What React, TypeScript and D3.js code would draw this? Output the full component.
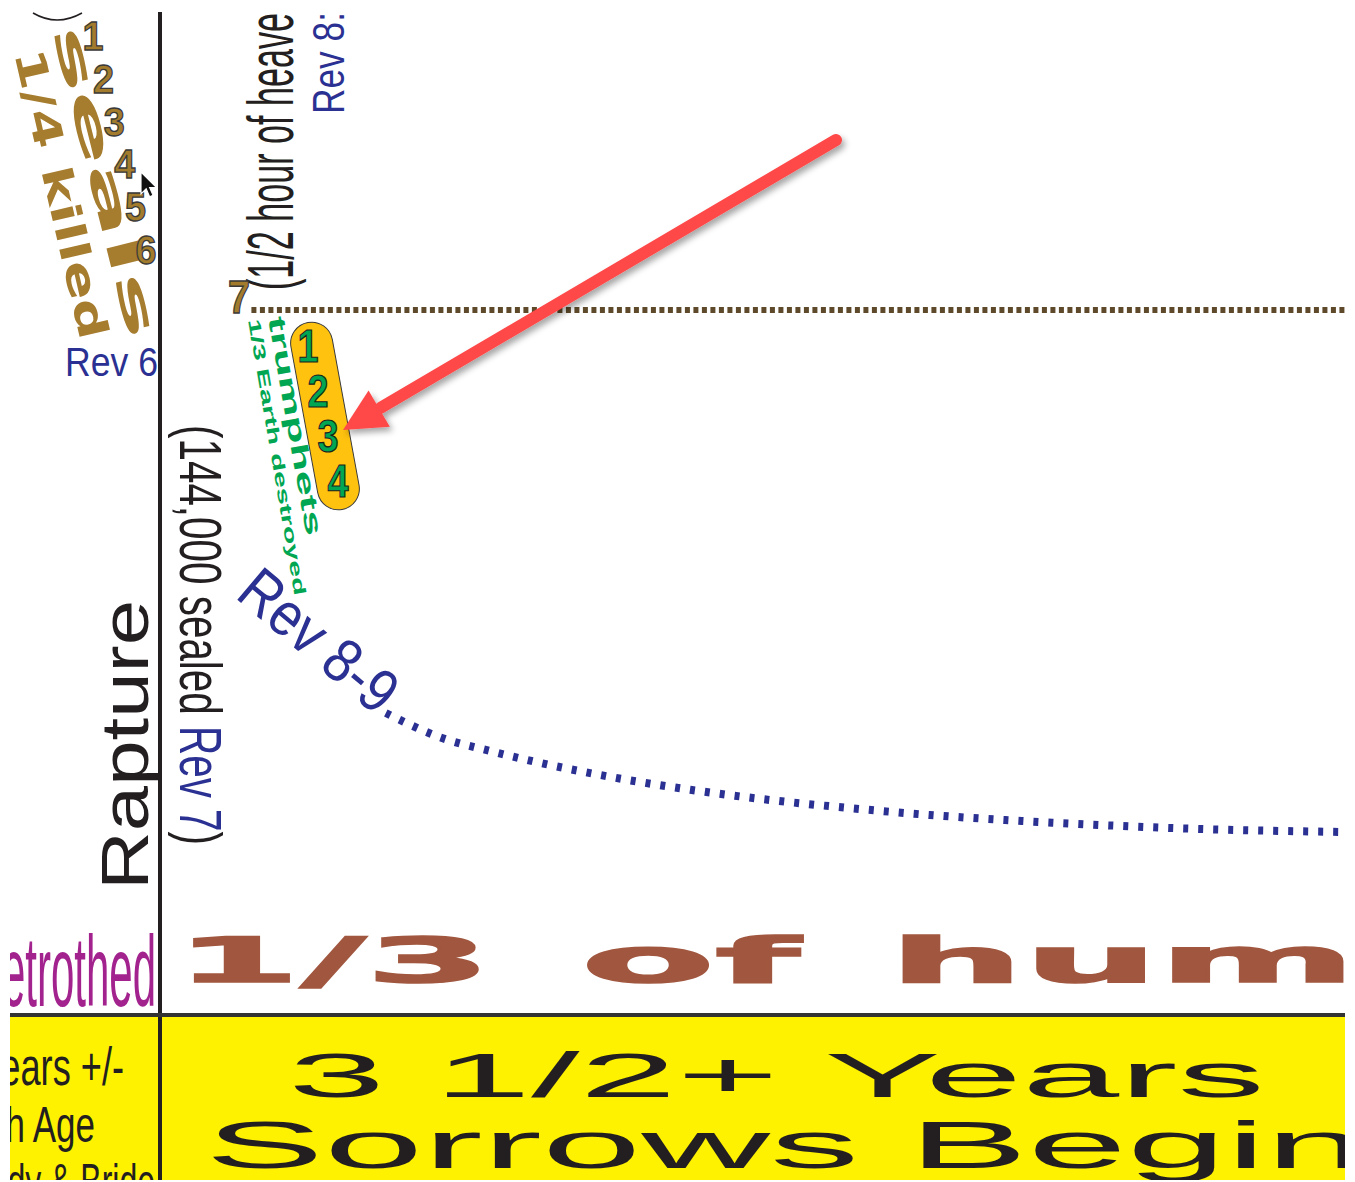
import React from "react";
import * as d3 from "d3";

// ---- data ----
const sealNumbers = ["1", "2", "3", "4", "5", "6"];
const seventhSeal = "7";
const trumpetNumbers = ["1", "2", "3", "4"];
// timeline (years since start) vs. intensity (0-100)
const curveYears = [0.667, 0.833, 0.975, 1.111, 1.3, 1.571, 1.802, 2.035, 2.274, 2.496, 2.776, 3.072, 3.5];
const curveIntensity = [30.1, 27.6, 26.3, 25.2, 23.9, 22.4, 21.4, 20.6, 19.9, 19.4, 18.9, 18.5, 18.2];
const silenceYears = [0.27, 3.5];
const silenceIntensity = [70.4, 70.4];
const bandLines = ["3 1/2+ Years", "Sorrows Begin"];
const leftBandLines = ["Years +/-", "Church Age", "Body & Bride"];
const humanityWords = ["1/3", "of", "hum"];

const W = 1355;
const H = 1182;
const BLUE = "#2B3192";
const GOLD = "#A67C2E";
const GREEN = "#00A651";
const INK = "#231F20";
const NARROW = "'Liberation Sans Narrow', 'Arial Narrow', 'Liberation Sans', Arial, sans-serif";
const SANS = "'Liberation Sans', Arial, sans-serif";
const HEAVY = "'DejaVu Sans', 'Liberation Sans', sans-serif";

type TP = {
  tx: number; ty: number; rot?: number; sx?: number; size: number; fill: string;
  len?: number; adj?: string; family?: string; weight?: any; anchor?: string;
  stroke?: string; sw?: number; children: any;
};
function T({ tx, ty, rot = 0, sx = 1, size, fill, len, adj = "spacingAndGlyphs", family = NARROW, weight = "normal", anchor = "start", stroke, sw, children }: TP) {
  return (
    <text
      transform={`translate(${tx},${ty}) rotate(${rot}) scale(${sx},1)`}
      fontSize={size}
      fill={fill}
      fontFamily={family}
      fontWeight={weight}
      textAnchor={anchor}
      textLength={len}
      lengthAdjust={len ? adj : undefined}
      stroke={stroke}
      strokeWidth={sw}
    >
      {children}
    </text>
  );
}

export default function App() {
  const x = d3.scaleLinear().domain([0, 3.5]).range([160, 1345]);
  const y = d3.scaleLinear().domain([0, 100]).range([1014, 14]);
  const line = d3
    .line<[number, number]>()
    .x((d) => x(d[0]))
    .y((d) => y(d[1]))
    .curve(d3.curveMonotoneX);
  const curveData = curveYears.map((v, i) => [v, curveIntensity[i]] as [number, number]);
  const silenceData = silenceYears.map((v, i) => [v, silenceIntensity[i]] as [number, number]);

  const sealX = d3.scaleLinear().domain([1, 6]).range([93, 146]);
  const sealY = d3.scaleLinear().domain([1, 6]).range([50, 264]);
  const trX = d3.scaleLinear().domain([1, 4]).range([308, 338]);
  const trY = d3.scaleLinear().domain([1, 4]).range([362, 497]);

  // arrow geometry
  const a0 = [836, 140];
  const tip = [343, 430];
  const dx = a0[0] - tip[0];
  const dy = a0[1] - tip[1];
  const L = Math.hypot(dx, dy);
  const ux = dx / L, uy = dy / L;
  const headLen = 42, headHalf = 21;
  const bx = tip[0] + ux * headLen, by = tip[1] + uy * headLen;
  const nx = -uy, ny = ux;
  const head = `M${tip[0]},${tip[1]} L${bx + nx * headHalf},${by + ny * headHalf} L${bx - nx * headHalf},${by - ny * headHalf} Z`;

  const humLayout = [
    { x0: 175, len: 316 },
    { x0: 581, len: 219 },
    { x0: 889, len: 467 },
  ];
  const bandLayout = [
    { x0: 288, base: 1097, size: 63, len: 977 },
    { x0: 205, base: 1168, size: 66, len: 1160 },
  ];
  const leftLayout = [
    { x1: 124, base: 1085, size: 54, sx: 0.67 },
    { x1: 95, base: 1142, size: 50, sx: 0.7 },
    { x1: 155, base: 1199, size: 50, sx: 0.64 },
  ];

  return (
    <svg
      width={W}
      height={H}
      viewBox={`0 0 ${W} ${H}`}
      style={{ position: "absolute", left: 0, top: 0, background: "#fff" }}
    >
      <defs>
        <clipPath id="frame">
          <rect x={10} y={12} width={1335} height={1168} />
        </clipPath>
        <filter id="shadow" x="-20%" y="-20%" width="140%" height="140%">
          <feDropShadow dx="3" dy="4" stdDeviation="3" floodColor="#000" floodOpacity="0.35" />
        </filter>
      </defs>
      <rect x={0} y={0} width={W} height={H} fill="#fff" />
      <g clipPath="url(#frame)">
        {/* yellow band */}
        <rect x={10} y={1016} width={1335} height={164} fill="#FFF200" />

        {/* bottom band text */}
        {bandLines.map((s, i) => (
          <T key={s} tx={bandLayout[i].x0} ty={bandLayout[i].base} size={bandLayout[i].size} fill={INK} family={SANS} len={bandLayout[i].len}>
            {s}
          </T>
        ))}
        {leftBandLines.map((s, i) => (
          <T key={s} tx={leftLayout[i].x1} ty={leftLayout[i].base} size={leftLayout[i].size} sx={leftLayout[i].sx} fill={INK} family={SANS} anchor="end">
            {s}
          </T>
        ))}

        {/* 1/3 of humanity */}
        {humanityWords.map((s, i) => (
          <T key={s} tx={humLayout[i].x0} ty={982} size={62} fill="#A1573F" family={HEAVY} weight={900} len={humLayout[i].len} stroke="#A1573F" sw={1.5}>
            {s}
          </T>
        ))}

        {/* Betrothed */}
        <T tx={156} ty={1006} size={100} sx={0.42} fill="#A3238E" family={SANS} anchor="end">
          Betrothed
        </T>

        {/* frame lines */}
        <line x1={160} x2={160} y1={12} y2={1182} stroke={INK} strokeWidth={4} />
        <line x1={10} x2={1345} y1={1015} y2={1015} stroke="#333" strokeWidth={4} />

        {/* Rapture */}
        <T tx={148} ty={890} rot={-90} size={67} fill={INK} family={SANS} len={290}>
          Rapture
        </T>

        {/* (144,000 sealed Rev 7) */}
        <T tx={180} ty={425} rot={90} size={60} fill={INK} len={420}>
          (144,000 sealed <tspan fill={BLUE}>Rev 7</tspan>)
        </T>

        {/* (1/2 hour of heaven */}
        <T tx={293} ty={290} rot={-90} size={64} fill={INK} len={277}>
          (1/2 hour of  heave
        </T>
        <T tx={344} ty={114} rot={-90} size={44} fill={BLUE} len={102}>
          Rev 8:
        </T>

        {/* Rev 6 */}
        <T tx={65} ty={376} size={40} fill={BLUE} len={93}>
          Rev 6
        </T>

        {/* top arc */}
        <path d="M33,13 Q57,27 82,13" fill="none" stroke={INK} strokeWidth={1.5} />

        {/* seals */}
        <T tx={52} ty={30} rot={76} size={43} fill={GOLD} family={HEAVY} weight={900} len={320}>
          seals
        </T>
        <T tx={14} ty={53} rot={77} size={41} fill={GOLD} family={HEAVY} weight={900} len={296}>
          1/4 killed
        </T>
        {sealNumbers.map((s, i) => (
          <T key={s} tx={sealX(i + 1)} ty={sealY(i + 1)} size={40} fill="#A27B2C" family={SANS} weight="bold" anchor="middle" stroke="#3a3a3a" sw={1.3} len={21}>
            {s}
          </T>
        ))}
        <T tx={239} ty={313} size={46} fill="#A27B2C" family={SANS} weight="bold" anchor="middle" stroke="#3a3a3a" sw={1.3} len={22}>
          {seventhSeal}
        </T>

        {/* silence dotted line */}
        <path d={line(silenceData) || ""} fill="none" stroke="#5e4a2a" strokeWidth={6} strokeDasharray="5 3.5" />

        {/* trumpets pill */}
        <g transform="translate(325,416) rotate(-10.4)">
          <rect x={-21} y={-95} width={42} height={190} rx={21} fill="#FFC20E" stroke="#3a3a3a" strokeWidth={1} />
        </g>
        {trumpetNumbers.map((s, i) => (
          <T key={s} tx={trX(i + 1)} ty={trY(i + 1)} size={46} fill={GREEN} family={SANS} weight="bold" anchor="middle" stroke="#1d1d1d" sw={1.2} len={21}>
            {s}
          </T>
        ))}
        <T tx={268} ty={318} rot={80} size={24} fill={GREEN} family={SANS} weight="bold" len={222}>
          trumphets
        </T>
        <T tx={248} ty={320} rot={80.4} size={17} fill={GREEN} family={SANS} weight="bold" len={280}>
          1/3 Earth destroyed
        </T>

        {/* Rev 8-9 and declining curve */}
        <T tx={234} ty={597} rot={40} size={62} fill={BLUE} len={186}>
          Rev 8-9
        </T>
        <path d={line(curveData) || ""} fill="none" stroke={BLUE} strokeWidth={8} strokeDasharray="5 10" />

        {/* red arrow */}
        <g filter="url(#shadow)">
          <line x1={a0[0]} y1={a0[1]} x2={bx + ux * 2} y2={by + uy * 2} stroke="#FF4848" strokeWidth={12} strokeLinecap="round" />
          <path d={head} fill="#FF4848" />
        </g>

        {/* mouse cursor */}
        <path
          transform="translate(141,172) scale(1.15)"
          d="M0,0 L0,19 L4.5,14.5 L7.5,21.5 L10.5,20.3 L7.5,13.5 L13.5,13.5 Z"
          fill="#111"
          stroke="#fff"
          strokeWidth={1}
        />
      </g>
    </svg>
  );
}
